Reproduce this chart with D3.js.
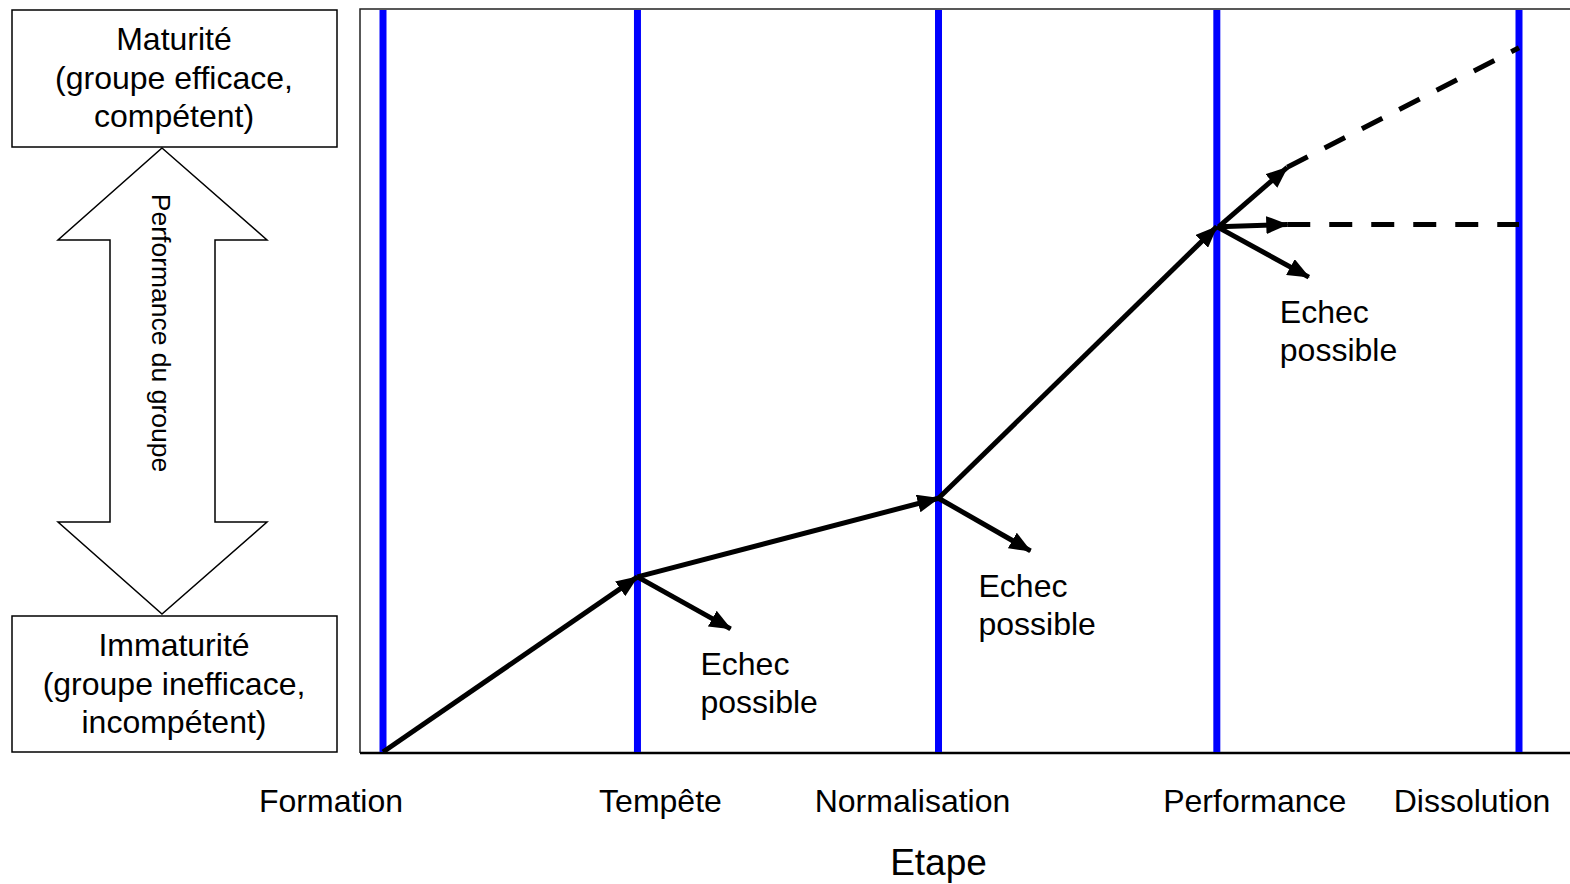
<!DOCTYPE html>
<html>
<head>
<meta charset="utf-8">
<script src="https://cdn.jsdelivr.net/npm/d3@7"></script>
<style>
  body { margin: 0; background: #fff; }
  text { font-family: "Liberation Sans", Arial, sans-serif; fill: #000; }
</style>
</head>
<body>
<div id="chart"></div>
<script>
// stages along the x axis (0..100 = Formation..Dissolution)
var stages = ["Formation", "Tempête", "Normalisation", "Performance", "Dissolution"];
var stagePos = [0, 22.4, 48.9, 73.4, 100];
// group performance reached at each stage (0..100)
var pathStages = [0, 1, 2, 3];
var pathPerf = [0, 23.6, 34.2, 70.8];
// possible failure at Tempête, Normalisation, Performance
var failFrom = [1, 2, 3];
var failEndX = [30.6, 57.0, 81.5];
var failEndPerf = [16.6, 27.1, 64.0];
// two outcomes after Performance: keep improving, or stay flat
var branchEndX = [79.6, 79.6];
var branchEndPerf = [78.8, 71.1];
var dashEndPerf = [94.9, 71.1];
var boxTop = ["Maturité", "(groupe efficace,", "compétent)"];
var boxBottom = ["Immaturité", "(groupe inefficace,", "incompétent)"];

var width = 1570, height = 884;
var plot = { left: 360, top: 9, right: 1580, bottom: 753 };

var svg = d3.select("#chart").append("svg")
    .attr("width", width)
    .attr("height", height);

var x = d3.scaleLinear().domain([0, 100]).range([383, 1519]);
var y = d3.scaleLinear().domain([0, 100]).range([752, 10]);

// arrow head
svg.append("defs").append("marker")
    .attr("id", "head")
    .attr("markerUnits", "userSpaceOnUse")
    .attr("viewBox", "0 0 22 18")
    .attr("refX", 21).attr("refY", 9)
    .attr("markerWidth", 22).attr("markerHeight", 18)
    .attr("orient", "auto")
    .append("path")
    .attr("d", "M0,0 L22,9 L0,18 Z")
    .attr("fill", "#000");

// frame
svg.append("path")
    .attr("d", "M" + plot.right + "," + plot.top + " H" + plot.left + " V" + plot.bottom)
    .attr("fill", "none").attr("stroke", "#222").attr("stroke-width", 1.5);
svg.append("line")
    .attr("x1", plot.left).attr("x2", plot.right)
    .attr("y1", plot.bottom).attr("y2", plot.bottom)
    .attr("stroke", "#000").attr("stroke-width", 2.5);

// blue stage lines
svg.selectAll("line.stage").data(stagePos).enter().append("line")
    .attr("class", "stage")
    .attr("x1", function (d) { return x(d); })
    .attr("x2", function (d) { return x(d); })
    .attr("y1", plot.top + 1).attr("y2", plot.bottom - 1)
    .attr("stroke", "#0000ff").attr("stroke-width", 7);

// stage labels
var labelShift = [-52, 23, -26, 38, -47];
svg.selectAll("text.stage").data(stages).enter().append("text")
    .attr("class", "stage")
    .attr("x", function (d, i) { return x(stagePos[i]) + labelShift[i]; })
    .attr("y", 812)
    .attr("text-anchor", "middle")
    .style("font-size", "32px")
    .text(function (d) { return d; });

svg.append("text")
    .attr("x", x(stagePos[2]))
    .attr("y", 875)
    .attr("text-anchor", "middle")
    .style("font-size", "37px")
    .text("Etape");

// main progression
for (var i = 1; i < pathStages.length; i++) {
    svg.append("line")
        .attr("x1", x(stagePos[pathStages[i - 1]])).attr("y1", y(pathPerf[i - 1]))
        .attr("x2", x(stagePos[pathStages[i]])).attr("y2", y(pathPerf[i]))
        .attr("stroke", "#000").attr("stroke-width", 5)
        .attr("marker-end", "url(#head)");
}

// failure arrows + labels
var failLabelShift = [63, 40, 63];
failFrom.forEach(function (s, i) {
    svg.append("line")
        .attr("x1", x(stagePos[s])).attr("y1", y(pathPerf[s]))
        .attr("x2", x(failEndX[i])).attr("y2", y(failEndPerf[i]))
        .attr("stroke", "#000").attr("stroke-width", 5)
        .attr("marker-end", "url(#head)");
    var lx = x(stagePos[s]) + failLabelShift[i];
    var t = svg.append("text")
        .attr("x", lx)
        .attr("y", y(failEndPerf[i]) + 46)
        .style("font-size", "32px");
    t.append("tspan").attr("x", lx).text("Echec");
    t.append("tspan").attr("x", lx).attr("dy", 38).text("possible");
});

// branches after performance
var p = pathStages.length - 1;
branchEndX.forEach(function (bx, i) {
    svg.append("line")
        .attr("x1", x(stagePos[p]) + 2).attr("y1", y(pathPerf[p]))
        .attr("x2", x(bx)).attr("y2", y(branchEndPerf[i]))
        .attr("stroke", "#000").attr("stroke-width", 5)
        .attr("marker-end", "url(#head)");
    svg.append("line")
        .attr("x1", x(bx)).attr("y1", y(branchEndPerf[i]))
        .attr("x2", x(stagePos[4])).attr("y2", y(dashEndPerf[i]))
        .attr("stroke", "#000").attr("stroke-width", 5)
        .attr("stroke-dasharray", "23,19");
});

// left side: boxes and double arrow
function box(y0, y1, lines, firstBase) {
    svg.append("rect")
        .attr("x", 12).attr("y", y0)
        .attr("width", 325).attr("height", y1 - y0)
        .attr("fill", "#fff").attr("stroke", "#000").attr("stroke-width", 1.5);
    svg.selectAll(null).data(lines).enter().append("text")
        .attr("x", 174)
        .attr("y", function (d, i) { return firstBase + i * 38.5; })
        .attr("text-anchor", "middle")
        .style("font-size", "32px")
        .text(function (d) { return d; });
}
box(10, 147, boxTop, 50);
box(616, 752, boxBottom, 656);

var arrowPts = [[162, 148], [267, 240], [215, 240], [215, 522], [267, 522], [162, 614],
                [58, 522], [110, 522], [110, 240], [58, 240]];
svg.append("path")
    .attr("d", d3.line()(arrowPts) + "Z")
    .attr("fill", "#fff").attr("stroke", "#000").attr("stroke-width", 1.5);

svg.append("text")
    .attr("transform", "translate(152,333) rotate(90)")
    .attr("text-anchor", "middle")
    .style("font-size", "26.5px")
    .text("Performance du groupe");
</script>
</body>
</html>
